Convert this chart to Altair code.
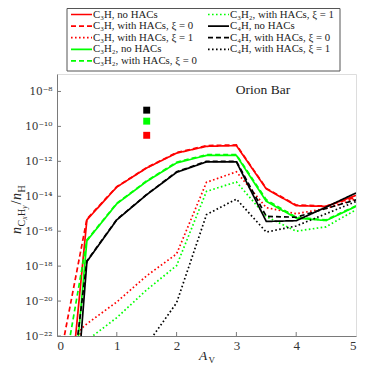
import altair as alt
import pandas as pd

# ---------------- data (log10 of n_CxHy / n_H) ----------------
series_names = ["C3H no", "C3H x0", "C3H x1",
                "C3H2 no", "C3H2 x0", "C3H2 x1",
                "C4H no", "C4H x0", "C4H x1"]
series_labels = ["C₃H,  no HACs", "C₃H,  with HACs,  ξ = 0", "C₃H,  with HACs,  ξ = 1",
                 "C₃H₂,  no HACs", "C₃H₂,  with HACs,  ξ = 0", "C₃H₂,  with HACs,  ξ = 1",
                 "C₄H,  no HACs", "C₄H,  with HACs,  ξ = 0", "C₄H,  with HACs,  ξ = 1"]
series_colors = ["#ff0000", "#ff0000", "#ff0000",
                 "#00ff00", "#00ff00", "#00ff00",
                 "#000000", "#000000", "#000000"]
series_dash = [[1, 0], [5, 3], [1.6, 2.4]] * 3

av_grid = [0.5, 1.0, 1.5, 2.0, 2.5, 3.0, 3.5, 4.0, 4.5, 5.0]

av_c3h_no = [0.3] + av_grid
lg_c3h_no = [-22.4, -15.35, -13.47, -12.38, -11.53, -11.14, -11.10, -13.58, -14.54, -14.58, -13.95]
av_c3h_x0 = [0.1] + av_grid
lg_c3h_x0 = [-22.4, -15.30, -13.45, -12.36, -11.50, -11.10, -11.06, -13.55, -14.50, -14.56, -14.05]
av_c3h_x1 = [0.3, 0.4] + av_grid
lg_c3h_x1 = [-23.5, -21.6, -21.3, -20.05, -18.55, -17.3, -13.2, -12.6, -14.65, -15.0, -14.7, -14.15]

av_c3h2_no = [0.35] + av_grid
lg_c3h2_no = [-22.3, -16.55, -14.43, -13.15, -12.09, -11.66, -11.66, -14.29, -15.25, -15.39, -14.58]
av_c3h2_x0 = [0.2] + av_grid
lg_c3h2_x0 = [-22.4, -16.50, -14.40, -13.12, -12.05, -11.62, -11.62, -14.20, -15.20, -15.35, -14.55]
av_c3h2_x1 = av_grid
lg_c3h2_x1 = [-22.25, -20.95, -19.36, -17.97, -13.72, -13.18, -15.16, -16.0, -15.75, -14.77]

av_c4h_no = [0.4] + av_grid
lg_c4h_no = [-22.1, -17.74, -15.35, -13.91, -12.63, -12.03, -12.03, -15.44, -15.40, -14.62, -13.81]
av_c4h_x0 = [0.3] + av_grid
lg_c4h_x0 = [-23.3, -17.70, -15.33, -13.90, -12.60, -12.00, -12.00, -15.15, -15.20, -14.70, -14.20]
av_c4h_x1 = [1.5, 2.0, 2.5, 3.0, 3.5, 4.0, 4.5, 5.0]
lg_c4h_x1 = [-22.5, -20.1, -15.05, -14.16, -16.05, -15.7, -15.0, -14.3]

series_av = [av_c3h_no, av_c3h_x0, av_c3h_x1, av_c3h2_no, av_c3h2_x0, av_c3h2_x1,
             av_c4h_no, av_c4h_x0, av_c4h_x1]
series_lg = [lg_c3h_no, lg_c3h_x0, lg_c3h_x1, lg_c3h2_no, lg_c3h2_x0, lg_c3h2_x1,
             lg_c4h_no, lg_c4h_x0, lg_c4h_x1]

# observed abundances (squares)
obs_av = [1.5, 1.5, 1.5]
obs_lg = [-9.07, -9.70, -10.51]
obs_colors = ["#000000", "#00ff00", "#ff0000"]

x_ticks = [0, 1, 2, 3, 4, 5]
y_exps = [-8, -10, -12, -14, -16, -18, -20, -22]

# ---------------- build tables ----------------
rows = []
for name, avs, lgs in zip(series_names, series_av, series_lg):
    for k, (a, l) in enumerate(zip(avs, lgs)):
        rows.append({"series": name, "Av": a, "val": 10 ** l, "k": k})
df = pd.DataFrame(rows)
obs_df = pd.DataFrame({"Av": obs_av, "val": [10 ** v for v in obs_lg], "c": obs_colors})

W, H = 299, 262
FONT = "Liberation Serif"
TFONT = "DejaVu Serif"
GRAY = "#7a7a7a"

xscale = alt.Scale(domain=[0, 5], nice=False, zero=False)
yscale = alt.Scale(type="log", domain=[1e-22, 1e-7], nice=False)

sup = str.maketrans("-0123456789", "⁻⁰¹²³⁴⁵⁶⁷⁸⁹")
label_expr = ""
for e in y_exps:
    label_expr += f"abs(log(datum.value)/LN10 - ({e})) < 0.3 ? '10{str(e).translate(sup)}' : "
label_expr += "''"

lines = alt.Chart(df).mark_line(clip=True, strokeWidth=1.7).encode(
    x=alt.X("Av:Q", scale=xscale,
            axis=alt.Axis(values=x_ticks, title=None, grid=False, tickSize=0,
                          labelFont=FONT, labelFontSize=13, labelColor="#333",
                          labelPadding=3, domainColor=GRAY, format="d")),
    y=alt.Y("val:Q", scale=yscale,
            axis=alt.Axis(values=[10.0 ** e for e in y_exps], title=None, grid=False,
                          tickSize=0, labelExpr=label_expr, labelFont=TFONT,
                          labelFontSize=10.5, labelColor="#333", labelPadding=5,
                          domainColor=GRAY)),
    color=alt.Color("series:N", scale=alt.Scale(domain=series_names, range=series_colors), legend=None),
    strokeDash=alt.StrokeDash("series:N", scale=alt.Scale(domain=series_names, range=series_dash), legend=None),
    order="k:Q",
)

squares = alt.Chart(obs_df).mark_square(size=48, opacity=1, filled=True).encode(
    x=alt.X("Av:Q", scale=xscale), y=alt.Y("val:Q", scale=yscale),
    color=alt.Color("c:N", scale=None),
)

yt_df = pd.DataFrame({"val": [10.0 ** e for e in y_exps]})
yticks = alt.Chart(yt_df).mark_rule(color=GRAY, strokeWidth=1).encode(
    y=alt.Y("val:Q", scale=yscale), x=alt.value(0), x2=alt.value(4))
xt_df = pd.DataFrame({"Av": x_ticks[1:-1]})
xticks = alt.Chart(xt_df).mark_rule(color=GRAY, strokeWidth=1).encode(
    x=alt.X("Av:Q", scale=xscale), y=alt.value(H), y2=alt.value(H - 4))

one = pd.DataFrame({"a": [0]})

def txt(text, x, y, size, italic=False, angle=0, align="left", baseline="alphabetic", color="#222"):
    kw = dict(text=text, font=FONT, fontSize=size, align=align, baseline=baseline,
              color=color, angle=angle)
    if italic:
        kw["fontStyle"] = "italic"
    return alt.Chart(one).mark_text(**kw).encode(x=alt.value(x), y=alt.value(y))

layers = [lines, yticks, xticks, squares]

# Orion Bar label
layers.append(txt("Orion Bar", 206, 16, 13.5, align="center", baseline="middle"))

# x title  A_V
layers.append(txt("A", 142, 286, 13.5, italic=True))
layers.append(txt("V", 151.5, 289, 9))

# y title  n_{CxHy}/n_H  (rotated, reading upward)
bx, by = -36, 160
pieces = [("n", 0, 0, 14, True), ("C", 7.5, 3.5, 10, False), ("x", 14.2, 6, 7.5, True),
          ("H", 18, 3.5, 10, False), ("y", 25.2, 6, 7.5, True), ("/", 29.5, 0, 14, False),
          ("n", 34, 0, 14, True), ("H", 41.5, 3.5, 10, False)]
for t, d_along, d_down, s, it in pieces:
    layers.append(txt(t, bx + d_down, by - d_along, s, italic=it, angle=270))

# legend box
layers.append(alt.Chart(one).mark_rect(fill="white", stroke="#555", strokeWidth=1).encode(
    x=alt.value(10), x2=alt.value(283), y=alt.value(-65.5), y2=alt.value(-3)))
leg_col = [0, 0, 0, 0, 0, 1, 1, 1, 1]
leg_row = [0, 1, 2, 3, 4, 0, 1, 2, 3]
col_x = [14, 151]
for name, lab, c, d, ci, ri in zip(series_names, series_labels, series_colors, series_dash, leg_col, leg_row):
    yy = -59.5 + 11.6 * ri
    x0 = col_x[ci]
    layers.append(alt.Chart(one).mark_rule(color=c, strokeWidth=1.7, strokeDash=d).encode(
        x=alt.value(x0), x2=alt.value(x0 + 21), y=alt.value(yy)))
    layers.append(txt(lab, x0 + 22, yy, 10.8, baseline="middle"))

chart = alt.layer(*layers).properties(
    width=W, height=H,
    autosize=alt.AutoSizeParams(type="none"),
    padding={"left": 49, "top": 66, "right": 10, "bottom": 30},
).configure_view(stroke=GRAY, strokeWidth=1).configure(background="white")

chart.save("out.html", embed_options={"renderer": "svg", "actions": False})
